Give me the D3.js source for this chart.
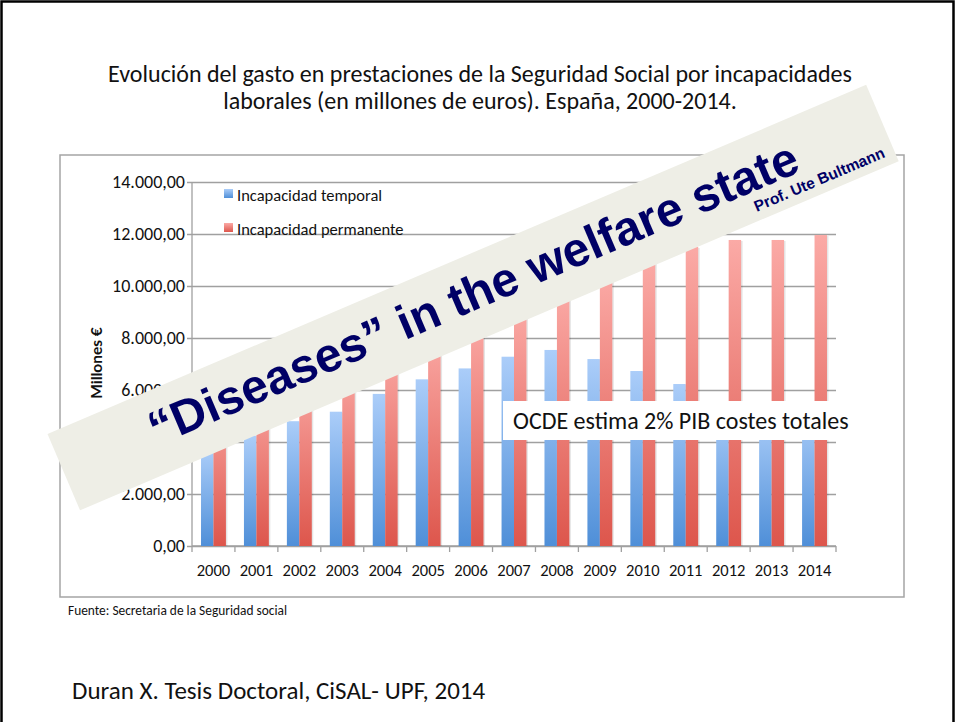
<!DOCTYPE html>
<html>
<head>
<meta charset="utf-8">
<script src="https://cdn.jsdelivr.net/npm/d3@7"></script>
<style>
  html, body { margin: 0; padding: 0; background: #fff; }
  svg { display: block; }
  .cal { font-family: "Carlito", "Lato", "Open Sans", sans-serif; fill: #111; }
</style>
</head>
<body>
<svg id="chart" width="955" height="722"></svg>
<script>
// Gasto en prestaciones por incapacidad (millones de euros)
const years = ["2000","2001","2002","2003","2004","2005","2006","2007","2008","2009","2010","2011","2012","2013","2014"];
const temporal   = [3700, 4250, 4800, 5165, 5850, 6410, 6830, 7280, 7540, 7190, 6730, 6230, 5350, 5050, 5250];
const permanente = [6000, 6400, 6850, 7300, 7800, 8300, 8800, 9300, 9900, 10500, 11000, 11500, 11770, 11770, 11960];
const seriesNames = ["Incapacidad temporal", "Incapacidad permanente"];
const yTicks = [0, 2000, 4000, 6000, 8000, 10000, 12000, 14000];

const titleLines = [
  "Evolución del gasto en prestaciones de la Seguridad Social por incapacidades",
  "laborales (en millones de euros). España, 2000-2014."
];
const yAxisTitle = "Millones €";
const sourceNote = "Fuente: Secretaria de la Seguridad social";
const citation = "Duran X. Tesis Doctoral, CiSAL- UPF, 2014";
const calloutText = "OCDE estima 2% PIB costes totales";
const bannerText = "“Diseases” in the welfare state";
const bannerAuthor = "Prof. Ute Bultmann";

const svg = d3.select("#chart");
const W = 955, H = 722;

svg.append("rect").attr("width", W).attr("height", H).attr("fill", "#fff");

// slide frame
svg.append("path")
  .attr("d", `M1.5,${H} V1.5 H${W - 1.5} V${H}`)
  .attr("fill", "none").attr("stroke", "#000").attr("stroke-width", 2.5);

// gradients for bars
const defs = svg.append("defs");
function grad(id, top, bottom) {
  const g = defs.append("linearGradient").attr("id", id)
    .attr("x1", 0).attr("y1", 0).attr("x2", 0).attr("y2", 1);
  g.append("stop").attr("offset", "0%").attr("stop-color", top);
  g.append("stop").attr("offset", "100%").attr("stop-color", bottom);
}
grad("gBlue", "#abcdf9", "#4f8fd8");
grad("gRed", "#fbaaa6", "#dd564c");
const fills = ["url(#gBlue)", "url(#gRed)"];

// title
svg.append("g").selectAll("text").data(titleLines).join("text")
  .attr("class", "cal")
  .attr("x", 480).attr("y", (d, i) => 82 + i * 27)
  .attr("text-anchor", "middle")
  .attr("font-size", 24)
  .text(d => d);

// chart frame
svg.append("rect")
  .attr("x", 60).attr("y", 155).attr("width", 844).attr("height", 442)
  .attr("fill", "none").attr("stroke", "#a5a5a5").attr("stroke-width", 1.5);

// scales
const y = d3.scaleLinear().domain([0, 14000]).range([546, 182]);
const x = d3.scaleBand().domain(years).range([192, 836]).paddingInner(0.42).paddingOuter(0.21);
const xs = d3.scaleBand().domain(seriesNames).range([0, x.bandwidth()]);
const step = x.step();

const es = d3.formatLocale({ decimal: ",", thousands: ".", grouping: [3], currency: ["", " €"] });
const fmt = es.format(",.2f");

// gridlines (extend a few px left of the axis as tick marks)
const gy = svg.append("g").attr("transform", "translate(836,0)")
  .call(d3.axisLeft(y).tickValues(yTicks).tickFormat("").tickSize(836 - 187));
gy.select(".domain").remove();
gy.selectAll(".tick line").attr("stroke", "#a0a0a0").attr("stroke-width", 1.3);

// y tick labels
const gyl = svg.append("g").attr("transform", "translate(187,0)")
  .call(d3.axisLeft(y).tickValues(yTicks).tickFormat(fmt).tickSize(0).tickPadding(2));
gyl.select(".domain").remove();
gyl.selectAll("text").attr("class", "cal").attr("font-size", 18).style("font-family", null);

// y axis line
svg.append("line").attr("x1", 192).attr("x2", 192).attr("y1", 182).attr("y2", 546)
  .attr("stroke", "#a0a0a0").attr("stroke-width", 1.3);

// x axis line and boundary ticks
svg.append("line").attr("x1", 192).attr("x2", 836).attr("y1", 546).attr("y2", 546)
  .attr("stroke", "#a0a0a0").attr("stroke-width", 1.3);
svg.append("g").selectAll("line").data(d3.range(years.length + 1)).join("line")
  .attr("x1", i => 192 + i * step).attr("x2", i => 192 + i * step)
  .attr("y1", 546).attr("y2", 552)
  .attr("stroke", "#a0a0a0").attr("stroke-width", 1.3);

// year labels
svg.append("g").selectAll("text").data(years).join("text")
  .attr("class", "cal")
  .attr("x", d => x(d) + x.bandwidth() / 2).attr("y", 576)
  .attr("text-anchor", "middle").attr("font-size", 16.5)
  .text(d => d);

// bars
const rows = years.map((yr, i) => ({ year: yr, values: [temporal[i], permanente[i]] }));
const groups = svg.append("g").selectAll("g").data(rows).join("g")
  .attr("transform", d => `translate(${x(d.year)},0)`);
groups.selectAll("rect.shadow").data(d => d.values).join("rect")
  .attr("class", "shadow")
  .attr("x", (v, j) => xs(seriesNames[j]) + 1.5)
  .attr("y", v => y(v) + 1)
  .attr("width", xs.bandwidth())
  .attr("height", v => 546 - y(v) - 1)
  .attr("fill", "rgba(0,0,0,0.10)");
groups.selectAll("rect.bar").data(d => d.values).join("rect")
  .attr("class", "bar")
  .attr("x", (v, j) => xs(seriesNames[j]))
  .attr("y", v => y(v))
  .attr("width", xs.bandwidth())
  .attr("height", v => 546 - y(v))
  .attr("fill", (v, j) => fills[j]);

// y axis title
svg.append("text")
  .attr("transform", "translate(102,363) rotate(-90)")
  .attr("text-anchor", "middle")
  .attr("font-family", "Lato, sans-serif").attr("font-weight", "bold")
  .attr("font-size", 15.5).attr("fill", "#111")
  .text(yAxisTitle);

// legend
const lg = svg.append("g").selectAll("g").data(seriesNames).join("g")
  .attr("transform", (d, i) => `translate(224,${189 + i * 34})`);
lg.append("rect").attr("width", 9).attr("height", 9).attr("fill", (d, i) => fills[i]);
lg.append("text").attr("class", "cal").attr("x", 13).attr("y", 11.5)
  .attr("font-size", 16.5).text(d => d);

// callout box
svg.append("rect").attr("x", 503).attr("y", 401).attr("width", 352).attr("height", 39).attr("fill", "#fff");
svg.append("text").attr("class", "cal").attr("x", 513).attr("y", 429)
  .attr("font-size", 24).text(calloutText);

// banner
const ang = -23.1;
const banner = svg.append("g").attr("transform", `translate(47.5,434) rotate(${ang})`);
banner.append("rect").attr("width", 890).attr("height", 83).attr("fill", "#eeeee6");
banner.append("text")
  .attr("x", 96).attr("y", 54)
  .attr("font-family", "'Liberation Sans', Arial, sans-serif").attr("font-weight", "bold")
  .attr("font-size", 48).attr("fill", "#000066")
  .text(bannerText);
banner.append("text")
  .attr("x", 880).attr("y", 74).attr("text-anchor", "end")
  .attr("font-family", "'Liberation Sans', Arial, sans-serif").attr("font-weight", "bold")
  .attr("font-size", 15.5).attr("fill", "#000066")
  .text(bannerAuthor);

// notes
svg.append("text").attr("class", "cal").attr("x", 68).attr("y", 615)
  .attr("font-size", 13.4).text(sourceNote);
svg.append("text").attr("class", "cal").attr("x", 72).attr("y", 699)
  .attr("font-size", 25).text(citation);
</script>
</body>
</html>
